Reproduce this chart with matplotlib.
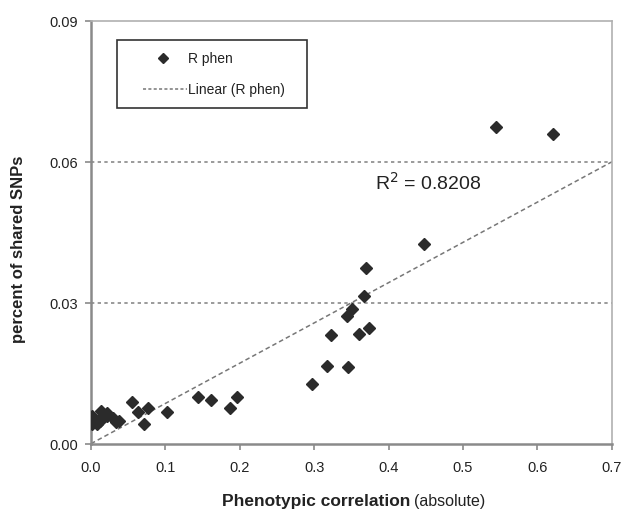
import numpy as np
import matplotlib
matplotlib.use('Agg')
import matplotlib.pyplot as plt
from matplotlib.patches import Rectangle
from matplotlib.lines import Line2D

plt.rcParams['font.family'] = ['Liberation Sans', 'DejaVu Sans']

# Phenotypic correlation (absolute) vs percent of shared SNPs
phen_corr = [0.001, 0.001, 0.0076, 0.012, 0.014, 0.017, 0.021, 0.022, 0.030, 0.034,
             0.038, 0.0547, 0.0636, 0.071, 0.077, 0.1017, 0.1433, 0.161, 0.187, 0.196,
             0.297, 0.317, 0.322, 0.3435, 0.345, 0.351, 0.3597, 0.367, 0.3695, 0.374,
             0.447, 0.545, 0.621]
shared_snps = [0.0058, 0.0042, 0.0042, 0.0049, 0.0070, 0.0062, 0.0060, 0.0065, 0.0055, 0.0047,
               0.0048, 0.0089, 0.0068, 0.0042, 0.0075, 0.0068, 0.0099, 0.0094, 0.0075, 0.0099,
               0.0128, 0.0165, 0.0231, 0.0272, 0.0163, 0.0287, 0.0234, 0.0315, 0.0375, 0.0247,
               0.0426, 0.0675, 0.0660]

# trendline as drawn in the reference (Excel linear fit)
trend_x = [0.0, 0.7]
trend_y = [0.0, 0.0600]
r_squared = 0.8208

x_ticks = [0.0, 0.1, 0.2, 0.3, 0.4, 0.5, 0.6, 0.7]
y_ticks = [0.00, 0.03, 0.06, 0.09]

W, H = 623, 510
fig = plt.figure(figsize=(W / 100, H / 100), dpi=100)
ax = fig.add_axes([0.146, 0.128, 0.836, 0.829])

def fx(px):
    return px / W

def fy(py):
    return 1 - py / H

grey = '#8a8a8a'
dark = '#222222'

# dotted gridlines
for yv in y_ticks[1:3]:
    ax.axhline(yv, color=grey, linestyle=(0, (2, 2)), linewidth=1.2, zorder=1)

ax.plot(trend_x, trend_y, color='#777777', linestyle=(0, (3, 2)),
        linewidth=1.1, zorder=2)
ax.plot(phen_corr, shared_snps, linestyle='none', marker='D', markersize=6.2,
        color='#2b2b2b', zorder=3)

ax.set_xlim(0, 0.7)
ax.set_ylim(0, 0.09)
ax.set_xticks(x_ticks)
ax.set_xticklabels(['%.1f' % v for v in x_ticks])
ax.set_yticks(y_ticks)
ax.set_yticklabels(['%.2f' % v for v in y_ticks])

for side in ['left', 'bottom']:
    ax.spines[side].set_color(grey)
    ax.spines[side].set_linewidth(1.8)
for side in ['top', 'right']:
    ax.spines[side].set_color('#b0b0b0')
    ax.spines[side].set_linewidth(1.2)

ax.tick_params(axis='both', direction='out', length=4, width=1.2, color=grey,
               labelsize=10.5, labelcolor=dark, pad=5)
ax.tick_params(axis='x', pad=8)

# axis labels
fig.text(fx(19), fy(249), 'percent of shared SNPs', fontsize=12, fontweight='bold',
         rotation=90, ha='center', va='center', color=dark)
fig.text(fx(410), fy(506.5), 'Phenotypic correlation', fontsize=12.5, fontweight='bold',
         ha='right', va='baseline', color=dark)
fig.text(fx(414), fy(506.5), '(absolute)', fontsize=11.5, ha='left', va='baseline',
         color=dark)

ax.text(0.3816, 0.0542, 'R$^2$ = %.4f' % r_squared, fontsize=14, color=dark,
        va='baseline')

# legend box drawn by hand to match the reference spacing
fig.patches.append(Rectangle((fx(117), fy(109)), fx(307) - fx(117), fy(41) - fy(109),
                             transform=fig.transFigure, facecolor='white',
                             edgecolor='#333333', linewidth=1.2, zorder=5))
fig.lines.append(Line2D([fx(163)], [fy(58.7)], transform=fig.transFigure, marker='D',
                        markersize=5, color='#2b2b2b', linestyle='none', zorder=6))
fig.lines.append(Line2D([fx(143), fx(187)], [fy(90), fy(90)], transform=fig.transFigure,
                        color='#777777', linestyle=(0, (2, 1.5)), linewidth=1.1, zorder=6))
fig.text(fx(188), fy(58.7), 'R phen', fontsize=10, ha='left', va='center', color=dark,
         zorder=7)
fig.text(fx(188), fy(90), 'Linear (R phen)', fontsize=10, ha='left', va='center',
         color=dark, zorder=7)

fig.savefig('out.png', dpi=100)
